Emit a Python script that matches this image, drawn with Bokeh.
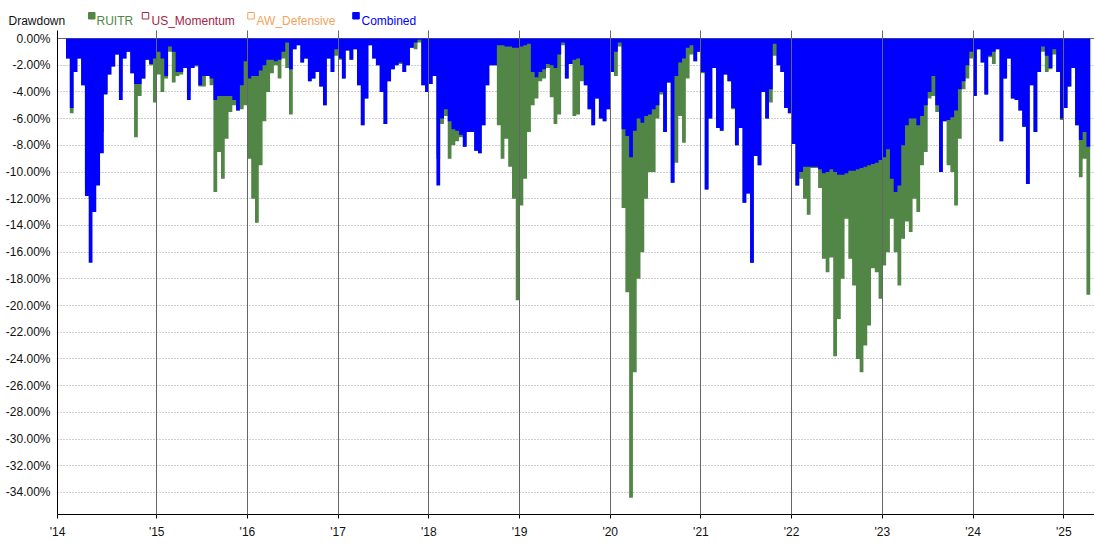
from bokeh.plotting import figure
from bokeh.layouts import column
from bokeh.models import (FixedTicker, CustomJSTickFormatter, Range1d,
                          ColumnDataSource, Span)
from bokeh.embed import file_html
from bokeh.resources import INLINE
from bokeh.core.properties import value

# ---- data: drawdown in %, semi-monthly samples (24 per year) ----
combined_2014 = [-1.5, -5.2, -2.5, -1.5, -3.5, -11.8, -16.8, -13.0, -11.0, -8.6, -4.2, -2.7,
                 -2.1, -1.2, -4.6, -1.5, -1.0, -2.6, -3.4, -3.4, -3.0, -1.6, -1.9, -1.5]
ruitr_2014 = [-1.5, -5.6, -2.5, -1.5, -3.5, -11.0, -12.0, -10.0, -9.0, -7.0, -4.0, -2.7,
              -2.1, -1.2, -4.0, -1.5, -1.0, -2.6, -7.4, -4.3, -3.0, -1.6, -2.0, -4.8]
combined_2015 = [-1.0, -1.5, -2.8, -0.6, -1.0, -2.5, -2.5, -2.2, -4.6, -2.2, -2.0, -3.5,
                 -2.8, -2.8, -3.0, -4.6, -4.3, -4.3, -4.3, -4.3, -4.6, -5.4, -3.5, -1.7]
ruitr_2015 = [-2.7, -4.0, -3.0, -1.0, -3.3, -2.8, -2.7, -2.2, -4.0, -2.2, -2.1, -3.6,
              -3.6, -2.8, -3.5, -11.5, -8.5, -10.5, -7.5, -5.5, -5.0, -5.4, -5.3, -5.0]
combined_2016 = [-3.0, -2.8, -2.8, -2.4, -2.0, -1.6, -1.6, -1.7, -1.6, -1.0, -0.3, -2.3,
                 -0.8, -0.5, -1.8, -1.5, -3.2, -3.0, -2.5, -3.6, -5.0, -1.5, -2.5, -0.8]
ruitr_2016 = [-9.0, -12.0, -13.8, -9.5, -6.2, -4.0, -2.6, -2.0, -3.0, -1.5, -2.2, -5.7,
              -0.8, -0.5, -1.8, -1.5, -3.2, -3.0, -2.5, -3.6, -5.0, -1.5, -2.5, -1.3]
combined_2017 = [-1.5, -3.0, -0.9, -1.6, -0.8, -3.5, -6.5, -4.5, -0.5, -1.5, -2.0, -4.0,
                 -6.4, -3.2, -2.3, -2.0, -1.8, -2.5, -2.0, -0.7, -0.3, -0.1, -3.5, -4.0]
ruitr_2017 = [-1.6, -3.0, -0.9, -1.6, -0.8, -3.5, -6.5, -4.5, -0.5, -1.5, -2.0, -4.0,
              -6.4, -3.2, -2.3, -2.0, -1.9, -2.5, -2.0, -0.7, -0.8, -0.3, -3.5, -4.0]
combined_2018 = [-3.4, -2.8, -11.0, -6.0, -5.3, -6.2, -6.8, -6.9, -7.2, -8.1, -7.0, -7.0,
                 -8.4, -8.6, -6.5, -3.5, -2.0, -2.0, -0.5, -0.5, -0.6, -0.6, -0.7, -0.7]
ruitr_2018 = [-3.4, -2.8, -9.0, -6.4, -5.8, -9.0, -8.0, -7.7, -7.4, -8.1, -7.0, -7.0,
              -8.4, -8.6, -6.5, -3.5, -2.0, -2.0, -6.5, -9.0, -7.5, -9.6, -12.0, -19.6]
combined_2019 = [-0.6, -0.5, -0.4, -2.5, -2.9, -2.5, -2.3, -1.9, -2.0, -2.2, -1.2, -0.3,
                 -3.0, -1.9, -1.6, -1.5, -2.0, -3.5, -5.3, -6.5, -4.5, -6.0, -6.2, -5.3]
ruitr_2019 = [-12.5, -10.5, -7.0, -5.0, -4.5, -3.2, -3.0, -2.2, -4.4, -6.4, -5.7, -0.5,
              -3.0, -1.9, -5.8, -5.7, -3.2, -3.5, -5.3, -6.5, -4.5, -6.0, -6.2, -5.3]
combined_2020 = [-2.5, -1.0, -0.3, -6.8, -7.3, -8.9, -6.9, -6.0, -6.3, -5.8, -5.7, -5.3,
                 -5.0, -4.0, -7.0, -3.3, -10.8, -2.8, -1.8, -1.5, -0.7, -0.5, -1.7, -1.0]
ruitr_2020 = [-2.5, -2.8, -0.6, -12.7, -19.0, -34.4, -25.0, -18.0, -16.0, -12.0, -10.0, -10.0,
              -6.0, -4.2, -7.0, -3.3, -10.8, -9.3, -5.8, -7.8, -3.0, -1.2, -1.7, -1.0]
combined_2021 = [-2.5, -11.3, -6.0, -2.2, -6.7, -6.9, -2.7, -3.2, -5.2, -8.0, -6.7, -12.3,
                 -11.6, -16.8, -8.8, -9.5, -4.0, -6.0, -3.8, -0.4, -2.0, -2.5, -5.2, -5.6]
ruitr_2021 = [-2.6, -11.3, -6.0, -2.2, -6.7, -6.9, -2.7, -3.2, -5.3, -8.0, -6.7, -12.3,
              -11.6, -16.8, -8.8, -9.5, -4.0, -6.0, -4.8, -1.3, -2.0, -2.5, -5.2, -5.6]
combined_2022 = [-7.9, -11.0, -10.0, -9.6, -9.6, -9.6, -9.6, -9.8, -10.1, -10.0, -9.8, -10.0,
                 -10.2, -10.2, -10.1, -9.9, -9.9, -9.8, -9.7, -9.6, -9.5, -9.4, -9.3, -9.1]
ruitr_2022 = [-7.9, -11.0, -10.5, -12.0, -13.2, -9.7, -9.7, -11.2, -16.5, -17.5, -16.4, -23.8,
              -21.0, -18.0, -13.5, -16.5, -18.5, -24.0, -25.0, -23.0, -21.5, -17.2, -17.5, -19.5]
combined_2023 = [-8.9, -8.3, -10.5, -11.5, -11.0, -8.0, -6.5, -6.0, -6.0, -6.5, -5.8, -5.0,
                 -4.0, -2.8, -5.0, -10.0, -6.2, -6.1, -5.9, -5.4, -3.8, -3.2, -2.0, -1.0]
ruitr_2023 = [-17.0, -16.0, -13.5, -16.0, -18.5, -15.0, -13.7, -14.5, -12.0, -13.0, -9.5, -8.5,
              -4.5, -4.3, -5.5, -10.0, -6.2, -9.5, -10.0, -12.5, -7.5, -3.8, -3.0, -1.5]
combined_2024 = [-4.3, -0.8, -1.8, -4.2, -1.3, -1.0, -0.8, -7.7, -3.0, -1.5, -4.5, -4.6,
                 -5.4, -6.6, -10.9, -3.5, -7.0, -2.5, -0.6, -1.3, -2.2, -0.8, -2.5, -6.0]
ruitr_2024 = [-4.3, -0.8, -1.8, -4.2, -1.4, -1.9, -0.8, -7.7, -3.0, -1.5, -4.5, -4.6,
              -5.4, -6.6, -10.9, -3.5, -7.0, -2.5, -1.0, -2.5, -2.3, -1.2, -2.5, -6.1]
combined_2025 = [-5.2, -3.6, -2.2, -6.5, -7.6, -7.0, -8.1]
ruitr_2025 = [-5.2, -3.6, -2.2, -6.5, -10.4, -9.0, -19.2]

years = [2014, 2015, 2016, 2017, 2018, 2019, 2020, 2021, 2022, 2023, 2024, 2025]
combined_by_year = [combined_2014, combined_2015, combined_2016, combined_2017, combined_2018,
                    combined_2019, combined_2020, combined_2021, combined_2022, combined_2023,
                    combined_2024, combined_2025]
ruitr_by_year = [ruitr_2014, ruitr_2015, ruitr_2016, ruitr_2017, ruitr_2018, ruitr_2019,
                 ruitr_2020, ruitr_2021, ruitr_2022, ruitr_2023, ruitr_2024, ruitr_2025]

legend_title = "Drawdown"
legend_names = ["RUITR", "US_Momentum", "AW_Defensive", "Combined"]
year_ticks = [2013.906] + list(range(2015, 2026))
pct_ticks = list(range(0, -36, -2))

# ---- styles ----
GREEN = "#518646"
BLUE = "#0000ff"
legend_colors = [GREEN, "#a3243f", "#f4a25c", BLUE]
legend_filled = [True, False, False, True]
FONT = "Liberation Sans"
W = 1094
LEG_H = 30


def to_xy(per_year):
    xs, ys = [], []
    for yr, vals in zip(years, per_year):
        for i, v in enumerate(vals):
            xs.append(yr + i / 24.0)
            ys.append(v)
    xs.append(xs[-1] + 1 / 24.0)
    ys.append(ys[-1])
    return xs, ys


cx, cy = to_xy(combined_by_year)
rx, ry = to_xy(ruitr_by_year)

p = figure(width=W, height=520, output_backend="svg", toolbar_location=None,
           x_range=Range1d(2013.906, 2025.339), y_range=Range1d(-35.65, 0.6),
           min_border_left=57, min_border_right=0, min_border_top=0, min_border_bottom=36)
p.frame_align = False
p.outline_line_color = None
p.background_fill_color = "white"
p.border_fill_color = "white"

zero = Span(location=0, dimension="width", line_color="#666666", line_width=1, level="underlay")
p.add_layout(zero)

src_r = ColumnDataSource(dict(x=rx, y1=[0.0] * len(rx), y2=ry))
src_c = ColumnDataSource(dict(x=cx, y1=[0.0] * len(cx), y2=cy))
p.varea_step(x="x", y1="y1", y2="y2", source=src_r, step_mode="after", fill_color=GREEN)
p.varea_step(x="x", y1="y1", y2="y2", source=src_c, step_mode="after", fill_color=BLUE)

# axes
p.xaxis.ticker = FixedTicker(ticks=year_ticks)
p.xaxis.formatter = CustomJSTickFormatter(
    code="const y = Math.round(tick) % 100; return \"'\" + (y < 10 ? '0' + y : '' + y);")
p.yaxis.ticker = FixedTicker(ticks=pct_ticks)
p.yaxis.formatter = CustomJSTickFormatter(code="return tick.toFixed(2) + '%';")
for ax in (p.xaxis, p.yaxis):
    ax.axis_line_color = "black"
    ax.axis_line_width = 1
    ax.major_label_text_font = FONT
    ax.major_label_text_font_size = "12px"
    ax.major_label_text_color = "#111111"
    ax.minor_tick_line_color = None
p.xaxis.major_tick_out = 4
p.xaxis.major_tick_in = 0
p.xaxis.major_tick_line_color = "black"
p.xaxis.major_label_standoff = 6
p.yaxis.major_tick_out = 0
p.yaxis.major_tick_in = 0
p.yaxis.major_label_standoff = 7

# grids
p.xgrid.ticker = FixedTicker(ticks=year_ticks)
p.xgrid.grid_line_color = "#666666"
p.xgrid.grid_line_width = 1
p.xgrid.level = "overlay"
p.ygrid.ticker = FixedTicker(ticks=pct_ticks)
p.ygrid.grid_line_color = "#9a9a9a"
p.ygrid.grid_line_dash = "1 2"
p.ygrid.grid_line_width = 1

# ---- legend strip (1 data unit = 1 px; y measured up from the strip bottom) ----
lg = figure(width=W, height=LEG_H, output_backend="svg", toolbar_location=None,
            x_range=Range1d(0, W), y_range=Range1d(0, LEG_H),
            x_axis_location=None, y_axis_location=None, min_border=0)
lg.frame_align = False
lg.outline_line_color = None
lg.xgrid.visible = False
lg.ygrid.visible = False

sq_x = [91.25, 145.0, 250.5, 355.5]
tx_x = [96.0, 151.0, 256.0, 361.0]
lg.text(x=[8.0], y=[10.0], text=[legend_title], text_font=value(FONT), text_font_size="12px",
        text_color="#111111", text_baseline="alphabetic", text_align="left")
lg.rect(x=sq_x, y=[14.75] * 4, width=6.5, height=6.5,
        fill_color=[c if f else "white" for c, f in zip(legend_colors, legend_filled)],
        line_color=legend_colors, line_width=1)
lg.text(x=tx_x, y=[10.0] * 4, text=legend_names, text_font=value(FONT), text_font_size="12px",
        text_color=legend_colors, text_baseline="alphabetic", text_align="left")

layout = column(lg, p, spacing=0)
open("out.html", "w").write(file_html(layout, INLINE))
